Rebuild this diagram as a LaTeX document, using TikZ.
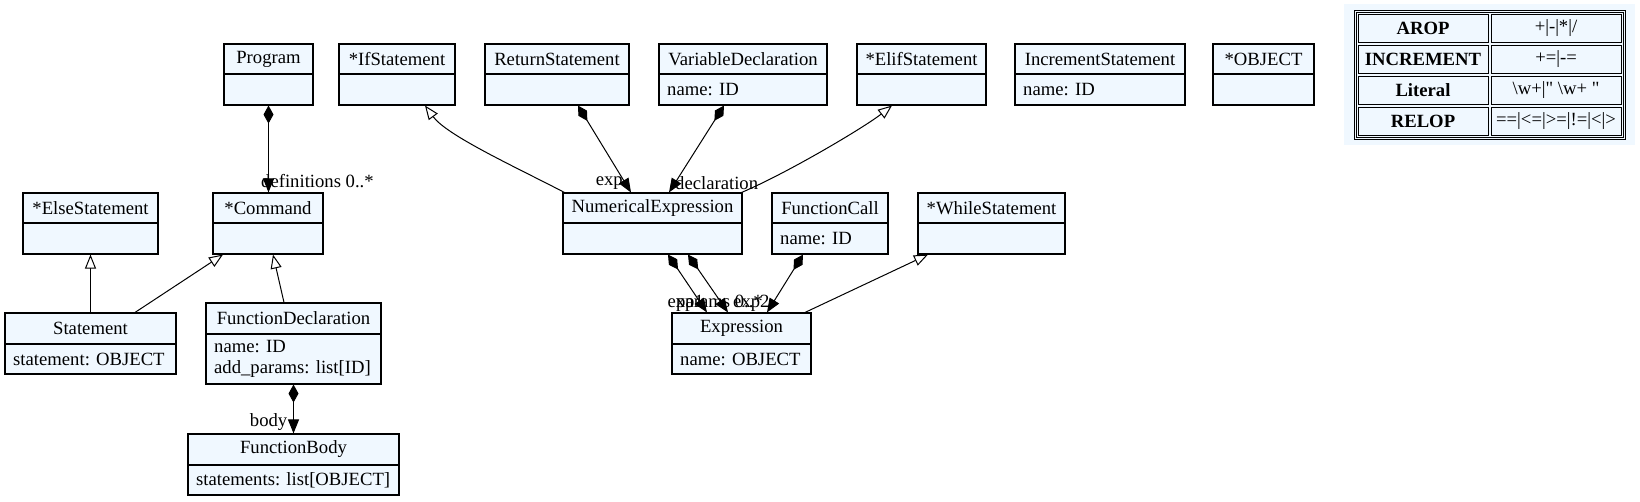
\documentclass[tikz,border=0pt]{standalone}
\usepackage{fontspec}
\setmainfont{Liberation Serif}
\newfontfamily\rawserif{Liberation Serif}[Ligatures=TeXOff]
\usetikzlibrary{arrows.meta,fit}
\definecolor{clsfill}{HTML}{F0F8FF}
\newcommand{\dgfont}{\fontsize{18.67}{20.5}\selectfont}
\tikzset{
  clsbox/.style={draw=black, fill=clsfill, line width=1.1pt, inner sep=0pt},
  cellbox/.style={draw=black, fill=clsfill, line width=1pt, inner sep=0pt},
  txt/.style={font=\dgfont, inner sep=0pt},
  comp/.style={line width=1pt, {Diamond[length=18pt,width=10pt]}-{Triangle[length=14pt,width=11pt]}},
  gen/.style={line width=1pt, -{Triangle[open,length=14pt,width=11pt,fill=white]}},
}
% name, x1, y1, x2, ysep, y2, title, attributes
\newcommand{\umlbox}[8]{%
  \node[clsbox, fit={(#2,#3) (#4,#6)}] (#1) {};
  \draw[line width=1.1pt] (#2,#5) -- (#4,#5);
  \node[txt] (#1-title) at ({(#2+#4)/2},{(#3+#5)/2}) {#7};
  \node[txt, anchor=west, align=left] (#1-attrs) at ({#2+8},{(#5+#6)/2}) {#8};
}
% name, x1, y1, x2, y2, text
\newcommand{\tcell}[6]{%
  \node[cellbox, fit={(#2,#3) (#4,#5)}] (#1) {};
  \node[txt] (#1-text) at (#1.center) {#6};
}
\begin{document}
\begin{tikzpicture}[x=1pt,y=-1pt]
\useasboundingbox (0,0) rectangle (1640,501);

% classes
\umlbox{Program}{224}{44}{313}{74}{105}{Program}{}
\umlbox{IfStatement}{339}{44}{455}{74}{105}{*IfStatement}{}
\umlbox{ReturnStatement}{485}{44}{629}{74}{105}{ReturnStatement}{}
\umlbox{VariableDeclaration}{659}{44}{827}{74}{105}{VariableDeclaration}{name: ID}
\umlbox{ElifStatement}{857}{44}{986}{74}{105}{*ElifStatement}{}
\umlbox{IncrementStatement}{1015}{44}{1185}{74}{105}{IncrementStatement}{name: ID}
\umlbox{OBJECT}{1213}{44}{1314}{74}{105}{*OBJECT}{}
\umlbox{ElseStatement}{23}{193}{158}{223}{254}{*ElseStatement}{}
\umlbox{Command}{213}{193}{323}{223}{254}{*Command}{}
\umlbox{NumericalExpression}{563}{193}{742}{223}{254}{NumericalExpression}{}
\umlbox{FunctionCall}{772}{193}{888}{223}{254}{FunctionCall}{name: ID}
\umlbox{WhileStatement}{918}{193}{1065}{223}{254}{*WhileStatement}{}
\umlbox{Statement}{5}{313}{176}{344}{374}{Statement}{statement: OBJECT}
\umlbox{FunctionDeclaration}{206}{303}{381}{334}{384}{FunctionDeclaration}{name: ID\\add\_params: list[ID]}
\umlbox{Expression}{672}{313}{811}{344}{374}{Expression}{name: OBJECT}
\umlbox{FunctionBody}{188}{434}{399}{465}{495}{FunctionBody}{statements: list[OBJECT]}

% table of match rules
\node[fill=clsfill, inner sep=0pt, fit={(1344,4) (1635,145)}] (tbl) {};
\draw[line width=1pt] (1354,10) rectangle (1625,139);
\draw[line width=0.8pt] (1356,12) rectangle (1623,137);
\tcell{c11}{1358}{14}{1488}{42}{\bfseries AROP}
\tcell{c12}{1491}{14}{1621}{42}{+|-|*|/}
\tcell{c21}{1358}{45}{1488}{73}{\bfseries INCREMENT}
\tcell{c22}{1491}{45}{1621}{73}{+=|-=}
\tcell{c31}{1358}{76}{1488}{104}{\bfseries Literal}
\tcell{c32}{1491}{76}{1621}{104}{\rawserif\textbackslash w+|" \textbackslash w+ "}
\tcell{c41}{1358}{107}{1488}{135}{\bfseries RELOP}
\tcell{c42}{1491}{107}{1621}{135}{==|<=|>=|!=|<|>}

% connector labels
\node[txt, anchor=west] (lblDefs) at ([xshift=-7pt,yshift=11pt]Command.north) {definitions 0..*};
\node[txt, anchor=east] (lblBody) at ([xshift=-6pt,yshift=11pt]FunctionBody.north) {body};
\node[txt, anchor=east] (lblExp) at ([xshift=-29.5pt,yshift=9pt]NumericalExpression.north) {exp};
\node[txt, anchor=west] (lblDecl) at ([xshift=22.5pt,yshift=9pt]NumericalExpression.north) {declaration};
\node[txt, anchor=east] (lblExp1) at ([xshift=-37.5pt,yshift=9pt]Expression.north) {exp1};
\node[txt, anchor=east] (lblParams) at ([xshift=21.5pt,yshift=9pt]Expression.north) {params 0..*};
\node[txt, anchor=west] (lblExp2) at ([xshift=-8.5pt,yshift=9pt]Expression.north) {exp2};

% compositions
\draw[comp] (Program.south) -- (Program.south |- Command.north);
\draw[comp] (FunctionDeclaration.south) -- (FunctionBody.north);
\draw[comp] ([xshift=21pt]ReturnStatement.south) -- ([xshift=-21.5pt]NumericalExpression.north);
\draw[comp] ([xshift=-19pt]VariableDeclaration.south) -- ([xshift=16.5pt]NumericalExpression.north);
\draw[comp] ([xshift=15.5pt]NumericalExpression.south) -- ([xshift=-34.5pt]Expression.north);
\draw[comp] ([xshift=35.5pt]NumericalExpression.south) -- ([xshift=-13.5pt]Expression.north);
\draw[comp] ([xshift=-27pt]FunctionCall.south) -- ([xshift=25.5pt]Expression.north);

% generalizations
\draw[gen] (Statement.north) -- (ElseStatement.south);
\draw[gen] ([xshift=44.5pt]Statement.north) -- ([xshift=-45pt]Command.south);
\draw[gen] ([xshift=-9.5pt]FunctionDeclaration.north) -- ([xshift=5pt]Command.south);
\draw[gen] ([xshift=2pt]NumericalExpression.north west) .. controls +(-50,-26) and +(22,30) .. ([xshift=28pt]IfStatement.south);
\draw[gen] ([xshift=-1pt]NumericalExpression.north east) .. controls +(45,-19) and +(-28,22) .. ([xshift=-29.5pt]ElifStatement.south);
\draw[gen] ([xshift=63.5pt]Expression.north) -- ([xshift=-63.5pt]WhileStatement.south);
\end{tikzpicture}
\end{document}
